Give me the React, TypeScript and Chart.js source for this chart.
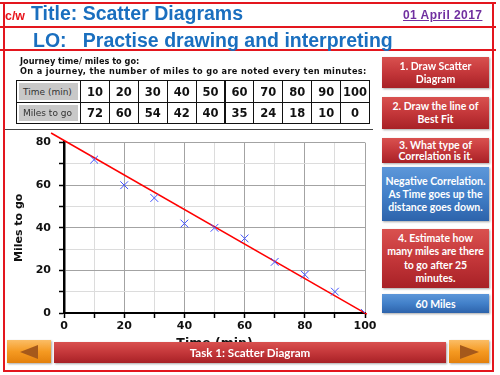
import React, { useEffect, useRef } from "react";
import { Chart, registerables } from "chart.js";

Chart.register(...registerables);

// ---- data ----
const timeMin = [10, 20, 30, 40, 50, 60, 70, 80, 90, 100];
const milesToGo = [72, 60, 54, 42, 40, 35, 24, 18, 10, 0];
const fitTime = [-4.3, 100.6];
const fitMiles = [84.5, -0.5];
const xAxisTitle = "Time (min)";
const yAxisTitle = "Miles to go";
const rowLabels = ["Time (min)", "Miles to go"];
const stepTexts = [
  ["1. Draw Scatter", "Diagram"],
  ["2. Draw the line of", "Best Fit"],
  ["3. What type of", "Correlation is it."],
  ["Negative Correlation.", "As Time goes up the", "distance goes down."],
  ["4. Estimate how", "many miles are there", "to go after 25", "minutes."],
  ["60 Miles"],
];

const RED = "#e3161e";
const BLUE_TXT = "#1a6fbf";
const RED_GRAD = "linear-gradient(180deg, #d9514f 0%, #c4373a 50%, #a82126 100%)";
const BLUE_GRAD = "linear-gradient(180deg, #5d97d9 0%, #4280c9 50%, #2d63ab 100%)";
const ORANGE_GRAD = "linear-gradient(180deg, #fbbd66 0%, #f59a22 50%, #e3800c 100%)";

const stepBoxes = [
  { y: 57, h: 31, lh: 13, bg: RED_GRAD },
  { y: 97, h: 32, lh: 13, bg: RED_GRAD },
  { y: 138, h: 25, lh: 11, bg: RED_GRAD },
  { y: 167, h: 54, lh: 13, bg: BLUE_GRAD },
  { y: 229, h: 59, lh: 13.5, bg: RED_GRAD },
  { y: 294, h: 19, lh: 12, bg: BLUE_GRAD },
];

function Line({ x, y, w, h, c = RED }: any) {
  return <div style={{ position: "absolute", left: x, top: y, width: w, height: h, background: c }} />;
}

export default function App() {
  const ref = useRef<HTMLCanvasElement>(null);

  useEffect(() => {
    const gridColor = (ctx: any) =>
      ctx.tick && ctx.tick.value % 20 === 0 ? "#a3a3a3" : "#dcdcdc";
    const tickFont = { family: "'DejaVu Sans', sans-serif", size: 11, weight: "bold" as const };
    const chart = new Chart(ref.current as HTMLCanvasElement, {
      type: "scatter",
      data: {
        datasets: [
          {
            type: "line",
            data: fitTime.map((x, i) => ({ x, y: fitMiles[i] })),
            borderColor: "#ff0000",
            borderWidth: 1.5,
            pointRadius: 0,
            clip: false,
            order: 2,
          } as any,
          {
            data: timeMin.map((x, i) => ({ x, y: milesToGo[i] })),
            pointStyle: "crossRot",
            pointRadius: 5.5,
            borderColor: "#4152ff",
            backgroundColor: "#4152ff",
            borderWidth: 1,
            order: 1,
          },
        ],
      },
      options: {
        animation: false,
        responsive: false,
        devicePixelRatio: 1,
        layout: { padding: { left: 0, right: 15, top: 12, bottom: 0 } },
        plugins: { legend: { display: false }, tooltip: { enabled: false } },
        scales: {
          x: {
            type: "linear",
            min: 0,
            max: 100,
            ticks: {
              stepSize: 10,
              autoSkip: false,
              maxRotation: 0,
              padding: 2,
              color: "#111",
              font: tickFont,
              callback: (v: any) => (v % 20 === 0 ? String(v) : ""),
            },
            grid: { color: gridColor, lineWidth: 1, tickColor: "#000", tickLength: 5, tickWidth: 1.5 } as any,
            border: { color: "#000", width: 2 },
            title: {
              display: true,
              text: xAxisTitle,
              color: "#111",
              padding: { top: 0, bottom: 7 },
              font: { family: "'DejaVu Sans', sans-serif", size: 12.5, weight: "bold" },
            },
            afterFit: (s: any) => {
              s.height = 45;
            },
          },
          y: {
            type: "linear",
            min: 0,
            max: 80,
            ticks: {
              stepSize: 10,
              autoSkip: false,
              padding: 8,
              color: "#111",
              font: tickFont,
              callback: (v: any) => (v % 20 === 0 ? String(v) : ""),
            },
            grid: { color: gridColor, lineWidth: 1, tickColor: "#000", tickLength: 5, tickWidth: 1.5 } as any,
            border: { color: "#000", width: 2.5 },
            title: {
              display: true,
              text: yAxisTitle,
              color: "#111",
              padding: { top: 12.5, bottom: 0 },
              font: { family: "'DejaVu Sans', sans-serif", size: 11, weight: "bold" },
            },
            afterFit: (s: any) => {
              s.width = 64;
            },
          },
        },
      },
    });
    return () => chart.destroy();
  }, []);

  const colW = (369 - 80) / timeMin.length;
  const cellBase: React.CSSProperties = {
    position: "absolute",
    boxSizing: "border-box",
    border: "1px solid #111",
    display: "flex",
    alignItems: "center",
  };

  const btnText: React.CSSProperties = {
    fontFamily: "Lato, 'Open Sans', sans-serif",
    fontWeight: 700,
    color: "#fff",
    fontSize: 10.5,
    textAlign: "center",
  };

  return (
    <div
      style={{
        position: "absolute",
        left: 0,
        top: 0,
        width: 500,
        height: 375,
        background: "#fff",
        overflow: "hidden",
        fontFamily: "'Liberation Sans', Arial, sans-serif",
      }}
    >
      {/* chart canvas */}
      <canvas
        ref={ref}
        width={380}
        height={230}
        style={{ position: "absolute", left: 0, top: 128, width: 380, height: 230 }}
      />

      {/* red frame lines */}
      <Line x={0} y={2} w={496} h={2} />
      <Line x={0} y={26} w={496} h={2} />
      <Line x={0} y={49} w={496} h={2} />
      <Line x={3} y={370} w={491} h={2} />
      <Line x={3} y={2} w={2} h={370} />
      <Line x={492} y={2} w={2} h={370} />

      {/* header */}
      <div style={{ position: "absolute", left: 5, top: 10.2, fontSize: 12.4, lineHeight: 1, fontWeight: 700, color: "#e8141c" }}>
        c/w
      </div>
      <div style={{ position: "absolute", left: 31, top: 4.2, fontSize: 19.5, lineHeight: 1, fontWeight: 700, color: BLUE_TXT, whiteSpace: "pre" }}>
        Title: Scatter Diagrams
      </div>
      <div
        style={{
          position: "absolute",
          left: 403,
          top: 9.2,
          fontSize: 12,
          letterSpacing: 0.45,
          lineHeight: 1,
          fontWeight: 700,
          color: "#7030a0",
          textDecoration: "underline",
          whiteSpace: "pre",
        }}
      >
        01 April 2017
      </div>
      <div style={{ position: "absolute", left: 33, top: 30.5, fontSize: 19.5, lineHeight: 1, fontWeight: 700, color: BLUE_TXT, whiteSpace: "pre" }}>
        {"LO:   Practise drawing and interpreting"}
      </div>

      {/* intro text */}
      <div style={{ position: "absolute", left: 20, top: 57.4, fontFamily: "'DejaVu Sans', sans-serif", fontSize: 8.2, lineHeight: 1, fontWeight: 700, color: "#111", whiteSpace: "pre" }}>
        Journey time/ miles to go:
      </div>
      <div style={{ position: "absolute", left: 20, top: 67.4, fontFamily: "'DejaVu Sans', sans-serif", fontSize: 8.2, letterSpacing: 0.36, lineHeight: 1, fontWeight: 700, color: "#111", whiteSpace: "pre" }}>
        On a journey, the number of miles to go are noted every ten minutes:
      </div>

      {/* table */}
      {rowLabels.map((lab, r) => {
        const top = r === 0 ? 80 : 102;
        const h = r === 0 ? 23 : 22;
        const vals = r === 0 ? timeMin : milesToGo;
        return (
          <React.Fragment key={lab}>
            <div style={{ ...cellBase, left: 16, top, width: 65, height: h, background: "#c8c8c8", boxShadow: "inset 0 0 0 2px #fff", paddingLeft: 6, fontFamily: "'DejaVu Sans', sans-serif", fontSize: 9, color: "#333" }}>
              {lab}
            </div>
            {vals.map((v, i) => (
              <div
                key={i}
                style={{
                  ...cellBase,
                  left: 80 + i * colW,
                  top,
                  width: colW + 1,
                  height: h,
                  justifyContent: "center",
                  fontFamily: "'DejaVu Sans', sans-serif",
                  fontSize: 11.5,
                  fontWeight: 700,
                  color: "#111",
                }}
              >
                {v}
              </div>
            ))}
          </React.Fragment>
        );
      })}

      {/* separator under table */}
      <Line x={5} y={128.5} w={368} h={1} c="#444" />

      {/* right-side step boxes */}
      {stepBoxes.map((b, i) => (
        <div
          key={i}
          style={{
            position: "absolute",
            left: 382,
            top: b.y,
            width: 107,
            height: b.h,
            background: b.bg,
            boxShadow: "1px 1px 2px rgba(0,0,0,0.35)",
            display: "flex",
            flexDirection: "column",
            justifyContent: "center",
            alignItems: "center",
            ...btnText,
            lineHeight: b.lh + "px",
          }}
        >
          {stepTexts[i].map((t, j) => (
            <div key={j} style={{ whiteSpace: "pre" }}>
              {t}
            </div>
          ))}
        </div>
      ))}

      {/* bottom navigation bar */}
      <div style={{ position: "absolute", left: 7, top: 340, width: 44, height: 23, background: ORANGE_GRAD, boxShadow: "1px 1px 2px rgba(0,0,0,0.35)", zIndex: 2 }}>
        <div style={{ position: "absolute", left: 13, top: 4.5, width: 0, height: 0, borderTop: "7.5px solid transparent", borderBottom: "7.5px solid transparent", borderRight: "18px solid #a5591b" }} />
      </div>
      <div
        style={{
          position: "absolute",
          left: 54,
          top: 342,
          width: 392,
          height: 21,
          background: RED_GRAD,
          boxShadow: "1px 1px 2px rgba(0,0,0,0.35)",
          zIndex: 2,
          display: "flex",
          alignItems: "center",
          justifyContent: "center",
          ...btnText,
          fontSize: 11.6,
        }}
      >
        Task 1: Scatter Diagram
      </div>
      <div style={{ position: "absolute", left: 449, top: 340, width: 40, height: 23, background: ORANGE_GRAD, boxShadow: "1px 1px 2px rgba(0,0,0,0.35)", zIndex: 2 }}>
        <div style={{ position: "absolute", left: 11, top: 4.5, width: 0, height: 0, borderTop: "7.5px solid transparent", borderBottom: "7.5px solid transparent", borderLeft: "19px solid #a5591b" }} />
      </div>
    </div>
  );
}
